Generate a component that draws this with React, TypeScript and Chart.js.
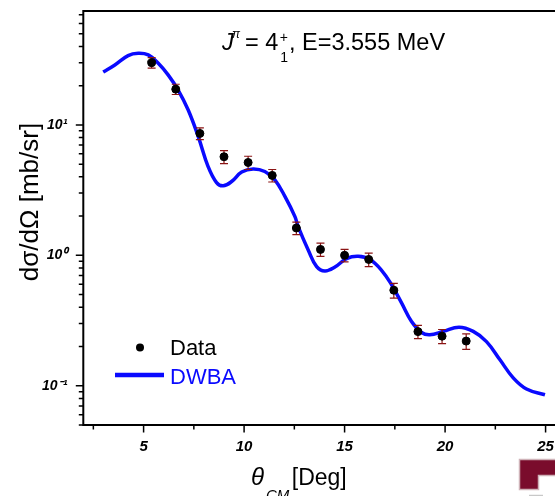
import React, { useEffect, useRef } from 'react';
import { Chart, registerables } from 'chart.js';

Chart.register(...registerables);

const FONT = "'Liberation Sans', Arial, Helvetica, sans-serif";

// Experimental data (theta_CM in deg, dσ/dΩ in mb/sr, error)
const angles = [5.4, 6.6, 7.8, 9.0, 10.2, 11.4, 12.6, 13.8, 15.0, 16.2, 17.45, 18.65, 19.85, 21.05];
const crossSections = [30.0, 18.8, 8.6, 5.7, 5.15, 4.1, 1.62, 1.11, 1.0, 0.93, 0.54, 0.26, 0.24, 0.22];
const errors = [2.8, 1.7, 0.9, 0.65, 0.6, 0.45, 0.18, 0.13, 0.11, 0.11, 0.07, 0.03, 0.03, 0.03];

// DWBA calculation
const dwbaAngles = [2.99, 3.57, 4.23, 4.73, 5.23, 5.73, 6.22, 6.72, 7.22, 7.72, 8.21, 8.63, 8.96, 9.38, 9.88, 10.45, 11.03, 11.53, 12.03, 12.53, 12.69, 13.19, 13.61, 14.02, 14.52, 15.1, 15.68, 16.26, 16.84, 17.34, 17.84, 18.33, 18.83, 19.24, 19.91, 20.69, 21.4, 22.06, 22.73, 23.39, 24.05, 24.97];
const dwbaValues = [25.4, 28.8, 34.0, 35.4, 34.4, 29.7, 24.2, 18.5, 13.0, 8.13, 4.79, 3.61, 3.41, 3.68, 4.35, 4.6, 4.39, 3.79, 2.83, 1.98, 1.66, 1.1, 0.82, 0.759, 0.813, 0.944, 0.982, 0.927, 0.767, 0.594, 0.43, 0.311, 0.256, 0.246, 0.261, 0.281, 0.261, 0.218, 0.158, 0.115, 0.0944, 0.0853];

// Axes
const xTicks = [2.5, 5, 7.5, 10, 12.5, 15, 17.5, 20, 22.5, 25];
const xTickLabels = ['', '5', '', '10', '', '15', '', '20', '', '25'];
const yTicks = [0.05, 0.06, 0.07, 0.08, 0.09, 0.1, 0.2, 0.3, 0.4, 0.5, 0.6, 0.7, 0.8, 0.9, 1, 2, 3, 4, 5, 6, 7, 8, 9, 10, 20, 30, 40, 50, 60, 70];
const yMajor = [0.1, 1, 10];
const yMajorLabels = ['10⁻¹', '10⁰', '10¹'];

const legendLabels = ['Data', 'DWBA'];
const titleMain = '= 4';
const titleRest = ', E=3.555 MeV';
const yTitle = 'dσ/dΩ [mb/sr]';
const xTitleSym = 'θ';
const xTitleSub = 'CM';
const xTitleUnit = ' [Deg]';

const BLUE = '#0a0aff';
const ERR = '#8b1414';

const decorPlugin = {
  id: 'decor',
  afterDatasetDraw(chart: any, args: any) {
    if (args.index !== 0) return;
    const ctx = chart.ctx;
    const xs = chart.scales.x;
    const ys = chart.scales.y;
    ctx.save();
    ctx.strokeStyle = ERR;
    ctx.lineWidth = 1.2;
    for (let i = 0; i < angles.length; i++) {
      const x = xs.getPixelForValue(angles[i]);
      const y1 = ys.getPixelForValue(crossSections[i] + errors[i]);
      const y2 = ys.getPixelForValue(crossSections[i] - errors[i]);
      ctx.beginPath();
      ctx.moveTo(x, y1);
      ctx.lineTo(x, y2);
      ctx.moveTo(x - 4, y1);
      ctx.lineTo(x + 4, y1);
      ctx.moveTo(x - 4, y2);
      ctx.lineTo(x + 4, y2);
      ctx.stroke();
    }
    ctx.restore();
  },
  afterDraw(chart: any) {
    const ctx = chart.ctx;
    const { left, right, top, bottom } = chart.chartArea;
    const xs = chart.scales.x;
    const ys = chart.scales.y;
    ctx.save();
    // frame
    ctx.strokeStyle = '#000';
    ctx.lineWidth = 2;
    ctx.strokeRect(left, top, right - left, bottom - top);
    // ticks
    ctx.lineWidth = 1.5;
    ctx.beginPath();
    xs.ticks.forEach((t: any, i: number) => {
      const px = xs.getPixelForValue(t.value);
      const len = xTickLabels[i] ? 7.5 : 4.5;
      ctx.moveTo(px, bottom);
      ctx.lineTo(px, bottom + len);
    });
    ys.ticks.forEach((t: any) => {
      const py = ys.getPixelForValue(t.value);
      const len = yMajor.includes(t.value) ? 7.5 : 4.5;
      ctx.moveTo(left, py);
      ctx.lineTo(left - len, py);
    });
    ctx.stroke();

    ctx.fillStyle = '#000';
    ctx.textBaseline = 'alphabetic';
    ctx.textAlign = 'left';
    // title
    const base = 50.3;
    ctx.font = `italic 23.5px ${FONT}`;
    ctx.fillText('J', 222, base);
    ctx.font = `italic 12px ${FONT}`;
    ctx.fillText('π', 232, 38);
    ctx.font = `23.5px ${FONT}`;
    ctx.fillText(titleMain, 245, base);
    let x = 245 + ctx.measureText(titleMain).width + 1.5;
    ctx.font = `14px ${FONT}`;
    ctx.fillText('+', x, 41.5);
    ctx.fillText('1', x + 0.5, 62);
    x += ctx.measureText('+').width + 1;
    ctx.font = `23.5px ${FONT}`;
    ctx.fillText(titleRest, x, base);

    // y title
    ctx.save();
    ctx.translate(31, 202);
    ctx.rotate(-Math.PI / 2);
    ctx.font = `26px ${FONT}`;
    ctx.textAlign = 'center';
    ctx.textBaseline = 'middle';
    ctx.fillText(yTitle, 0, 0);
    ctx.restore();

    // x title
    ctx.font = `italic 24px ${FONT}`;
    ctx.fillText(xTitleSym, 251, 485);
    let tx = 251 + ctx.measureText(xTitleSym).width + 2;
    ctx.font = `italic 15px ${FONT}`;
    ctx.fillText(xTitleSub, tx, 500);
    tx += ctx.measureText(xTitleSub).width;
    ctx.font = `23px ${FONT}`;
    ctx.fillText(xTitleUnit, tx - 4, 485);

    // legend
    ctx.beginPath();
    ctx.arc(140, 347.5, 4, 0, Math.PI * 2);
    ctx.fill();
    ctx.font = `22px ${FONT}`;
    ctx.fillText(legendLabels[0], 170, 355);
    ctx.strokeStyle = BLUE;
    ctx.lineWidth = 4.5;
    ctx.beginPath();
    ctx.moveTo(115, 375);
    ctx.lineTo(164, 375);
    ctx.stroke();
    ctx.fillStyle = BLUE;
    ctx.fillText(legendLabels[1], 170, 383.5);

    // logo fragment
    ctx.fillStyle = '#7a0c2c';
    ctx.strokeStyle = '#cfb2b8';
    ctx.lineWidth = 1.5;
    ctx.beginPath();
    ctx.moveTo(519.5, 459.5);
    ctx.lineTo(556, 459.5);
    ctx.lineTo(556, 475.5);
    ctx.lineTo(538.5, 475.5);
    ctx.lineTo(538.5, 489.5);
    ctx.lineTo(519.5, 489.5);
    ctx.closePath();
    ctx.fill();
    ctx.stroke();
    ctx.strokeStyle = '#c8c8c8';
    ctx.beginPath();
    ctx.moveTo(529, 495.5);
    ctx.lineTo(543, 495.5);
    ctx.stroke();
    ctx.restore();
  },
};

export default function App() {
  const ref = useRef<HTMLCanvasElement>(null);
  useEffect(() => {
    const chart = new Chart(ref.current!, {
      type: 'line',
      data: {
        datasets: [
          {
            label: legendLabels[1],
            data: dwbaAngles.map((a, i) => ({ x: a, y: dwbaValues[i] })),
            borderColor: BLUE,
            borderWidth: 3.5,
            pointRadius: 0,
            tension: 0.4,
            fill: false,
            order: 2,
          },
          {
            label: legendLabels[0],
            data: angles.map((a, i) => ({ x: a, y: crossSections[i] })),
            showLine: false,
            pointRadius: 4,
            pointBackgroundColor: '#000',
            pointBorderColor: '#000',
            borderColor: '#000',
            backgroundColor: '#000',
            order: 1,
          },
        ],
      },
      options: {
        animation: false,
        responsive: false,
        devicePixelRatio: 1,
        layout: { padding: { top: 11, right: 10.2, bottom: 0, left: 0 } },
        plugins: {
          legend: { display: false },
          title: { display: false },
          tooltip: { enabled: false },
        },
        scales: {
          x: {
            type: 'linear',
            min: 2,
            max: 27.2,
            afterBuildTicks: (s: any) => {
              s.ticks = xTicks.map((v) => ({ value: v }));
            },
            afterFit: (s: any) => {
              s.height = 71;
              s.paddingLeft = 0;
              s.paddingRight = 0;
            },
            grid: { display: false, drawTicks: false },
            border: { display: false },
            ticks: {
              autoSkip: false,
              maxRotation: 0,
              padding: 13,
              color: '#000',
              font: { family: FONT, size: 15, style: 'italic', weight: 'bold' },
              callback: (_v: any, i: number) => xTickLabels[i],
            },
          },
          y: {
            type: 'logarithmic',
            min: 0.05,
            max: 74.7,
            afterBuildTicks: (s: any) => {
              s.ticks = yTicks.map((v) => ({ value: v }));
            },
            afterFit: (s: any) => {
              s.width = 83.3;
              s.paddingTop = 0;
              s.paddingBottom = 0;
            },
            grid: { display: false, drawTicks: false },
            border: { display: false },
            ticks: {
              autoSkip: false,
              padding: 16,
              color: '#000',
              font: { family: FONT, size: 14, style: 'italic', weight: 'bold' },
              callback: (v: any) => {
                const k = yMajor.indexOf(Number(v));
                return k >= 0 ? yMajorLabels[k] : '';
              },
            },
          },
        },
      },
      plugins: [decorPlugin],
    } as any);
    return () => chart.destroy();
  }, []);
  return (
    <div style={{ position: 'fixed', left: 0, top: 0, width: 555, height: 496, overflow: 'hidden', background: '#fff' }}>
      <canvas ref={ref} width={600} height={496} style={{ display: 'block', width: 600, height: 496 }} />
    </div>
  );
}
